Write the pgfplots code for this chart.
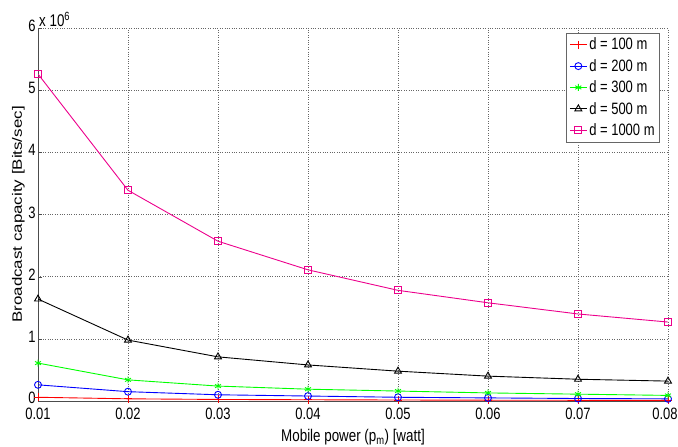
\documentclass[border=0pt]{standalone}
\usepackage{graphicx}
\usepackage{pgfplots}
\pgfplotsset{compat=1.18}
\usepackage{fontspec}
\setmainfont{Liberation Sans}
\newcommand\sq[1]{\scalebox{0.79}[1]{#1}}
\begin{document}
\begin{tikzpicture}
\useasboundingbox (-38bp,-46bp) rectangle (640bp,401bp);
\begin{axis}[
  at={(0,0)}, anchor=south west,
  scale only axis,
  width=630bp, height=373bp,
  xmin=0.01, xmax=0.08, ymin=0, ymax=6,
  scaled x ticks=false,
  xtick={0.01,0.02,0.03,0.04,0.05,0.06,0.07,0.08},
  xticklabels={\sq{0.01},\sq{0.02},\sq{0.03},\sq{0.04},\sq{0.05},\sq{0.06},\sq{0.07},\sq{0.08}\kern6bp},
  ytick={0,1,2,3,4,5,6},
  yticklabels={\raisebox{2bp}{\sq{0}},\sq{1},\sq{2},\sq{3},\sq{4},\sq{5},\sq{6}},
  axis x line*=bottom, axis y line*=left,
  axis line style={draw=black!70, line width=0.6pt, -},
  tick style={black!70},
  tick align=inside,
  major tick length=4bp,
  grid=major,
  grid style={dotted, black!60, line width=0.5pt},
  ticklabel style={font=\fontsize{16.5}{16.5}\selectfont},
  xticklabel style={yshift=-3.5bp},
  yticklabel style={xshift=1bp, yshift=2bp},
  xlabel={\sq{Mobile power (p\textsubscript{m}) [watt]}},
  ylabel={\scalebox{1}[0.8]{Broadcast capacity [Bits/sec]}},
  label style={font=\fontsize{17}{17}\selectfont},
  xlabel style={at={(axis description cs:0.5,-0.097)}, anchor=center},
  ylabel style={at={(axis description cs:-0.031,0.5)}, anchor=center},
  legend style={at={(rel axis cs:0.987,0.987)}, anchor=north east, draw=black!60, font=\fontsize{16.5}{16.5}\selectfont, cells={anchor=west}, row sep=4pt, inner sep=3pt},
  legend cell align=left,
  clip mode=individual,
  every axis plot/.append style={line width=0.9pt},
]
\addplot[red, mark=+, mark size=4pt] coordinates {(0.01,0.06) (0.02,0.035) (0.03,0.025) (0.04,0.02) (0.05,0.016) (0.06,0.013) (0.07,0.011) (0.08,0.01)};
\addplot[blue, mark=o, mark size=3.5pt] coordinates {(0.01,0.26) (0.02,0.15) (0.03,0.10) (0.04,0.08) (0.05,0.06) (0.06,0.05) (0.07,0.04) (0.08,0.035)};
\addplot[green, mark=asterisk, mark size=3.5pt] coordinates {(0.01,0.61) (0.02,0.34) (0.03,0.24) (0.04,0.19) (0.05,0.16) (0.06,0.13) (0.07,0.11) (0.08,0.09)};
\addplot[black, mark=triangle, mark size=4pt] coordinates {(0.01,1.64) (0.02,0.98) (0.03,0.71) (0.04,0.58) (0.05,0.48) (0.06,0.40) (0.07,0.35) (0.08,0.32)};
\addplot[magenta, mark=square, mark size=3.5pt] coordinates {(0.01,5.26) (0.02,3.39) (0.03,2.57) (0.04,2.11) (0.05,1.78) (0.06,1.58) (0.07,1.40) (0.08,1.27)};
\legend{\sq{d = 100 m}, \sq{d = 200 m}, \sq{d = 300 m}, \sq{d = 500 m}, \sq{d = 1000 m}}
\end{axis}
\node[anchor=south west, font=\fontsize{17}{17}\selectfont, inner sep=1pt] at (0,373bp) {\sq{x 10\textsuperscript{6}}};
\end{tikzpicture}
\end{document}
